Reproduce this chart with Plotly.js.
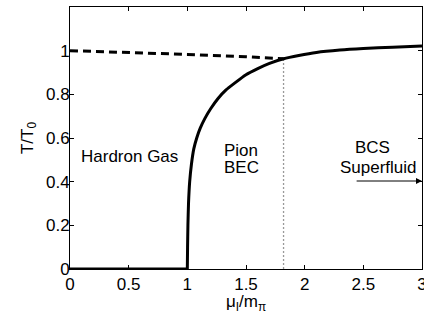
<!DOCTYPE html>
<html>
<head>
<meta charset="utf-8">
<script src="https://cdn.plot.ly/plotly-3.0.1.min.js"></script>
<style>html,body{margin:0;padding:0;background:#fff;}#chart{width:424px;height:314px;}</style>
</head>
<body>
<div id="chart"></div>
<script>
// Solid phase boundary: flat part (T = 0) and the rising curve
const muFlat = [0, 1.0];
const tFlat  = [0, 0];
const muSolid = [1.0, 1.002, 1.005, 1.01, 1.02, 1.035, 1.055, 1.08, 1.11, 1.15, 1.2, 1.26, 1.33, 1.4, 1.5, 1.6, 1.7, 1.82, 1.95, 2.1, 2.3, 2.5, 2.75, 3.0];
const tSolid  = [0, 0.1, 0.2, 0.3, 0.4, 0.48, 0.55, 0.6, 0.645, 0.69, 0.735, 0.78, 0.82, 0.85, 0.89, 0.918, 0.942, 0.963, 0.978, 0.992, 1.003, 1.010, 1.016, 1.021];
// Dashed crossover line
const muDashed = [0, 0.5, 1.0, 1.5, 1.82];
const tDashed  = [1.0, 0.993, 0.983, 0.972, 0.963];
// Dotted vertical line
const muDotted = [1.82, 1.82];
const tDotted  = [0, 0.963];
// Ticks
const xTicks = [0, 0.5, 1, 1.5, 2, 2.5, 3];
const xTickLabels = ["0", "0.5", "1", "1.5", "2", "2.5", "3"];
const yTicks = [0, 0.2, 0.4, 0.6, 0.8, 1];
const yTickLabels = ["0", "0.2", "0.4", "0.6", "0.8", "1"];
// Region labels (one entry per text line)
const labelText = ["Hardron Gas", "Pion", "BEC", "BCS", "Superfluid"];
const labelX = [0.511, 1.295, 1.295, 2.574, 2.63];
const labelY = [0.514, 0.541, 0.465, 0.555, 0.463];
const labelAnchor = ["center", "left", "left", "center", "center"];
// Arrow
const arrowFrom = [2.43, 0.403];
const arrowTo = [3.0, 0.403];

const traces = [
  {x: muDotted, y: tDotted, mode: 'lines', line: {color: '#999', width: 1.3, dash: '2px,2px'}, hoverinfo: 'skip'},
  {x: muDashed, y: tDashed, mode: 'lines', line: {color: '#000', width: 3, dash: '8px,5px'}, hoverinfo: 'skip'},
  {x: muFlat, y: tFlat, mode: 'lines', line: {color: '#000', width: 3}, hoverinfo: 'skip'},
  {x: muSolid, y: tSolid, mode: 'lines', line: {color: '#000', width: 3, shape: 'spline', smoothing: 0.5}, hoverinfo: 'skip'}
];

const font = {family: 'Liberation Sans, Arial, sans-serif', size: 17, color: '#000'};
const annotations = labelText.map((t, i) => ({
  x: labelX[i], y: labelY[i], xref: 'x', yref: 'y', text: t, showarrow: false,
  font: font, xanchor: labelAnchor[i], yanchor: 'middle'
}));
annotations.push({
  x: arrowTo[0], y: arrowTo[1], ax: arrowFrom[0], ay: arrowFrom[1], xref: 'x', yref: 'y', axref: 'x', ayref: 'y',
  text: '', showarrow: true, arrowhead: 2, arrowsize: 1.2, arrowwidth: 1, arrowcolor: '#000'
});

const axisCommon = {
  showline: true, linecolor: '#000', linewidth: 1, mirror: 'ticks',
  ticks: 'inside', ticklen: 4, tickcolor: '#000', tickwidth: 1,
  showgrid: false, zeroline: false, tickfont: font
};

const layout = {
  width: 424, height: 314,
  margin: {l: 70, r: 2, t: 7, b: 45, pad: 0},
  paper_bgcolor: '#fff', plot_bgcolor: '#fff',
  showlegend: false,
  font: font,
  xaxis: Object.assign({}, axisCommon, {
    range: [0, 3], tickmode: 'array', tickvals: xTicks, ticktext: xTickLabels,
    ticklabeloverflow: 'allow',
    title: {text: 'μ<sub>I</sub>/m<sub>π</sub>', font: font, standoff: 2}
  }),
  yaxis: Object.assign({}, axisCommon, {
    range: [0, 1.2], tickmode: 'array', tickvals: yTicks, ticktext: yTickLabels,
    ticklabelstandoff: -4,
    title: {text: 'T/T<sub>0</sub>', font: font, standoff: 8}
  }),
  annotations: annotations
};

Plotly.newPlot('chart', traces, layout, {displayModeBar: false, staticPlot: true});
</script>
</body>
</html>
